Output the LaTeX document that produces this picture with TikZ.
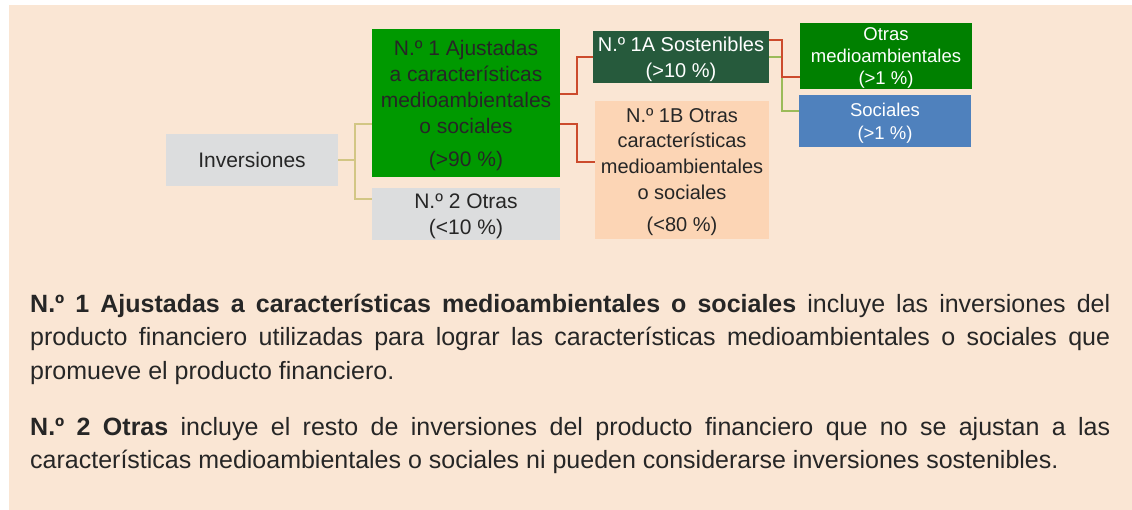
\documentclass[tikz,border=0pt]{standalone}
\usepackage{fontspec}
\setmainfont{Liberation Sans}
\definecolor{bg}{HTML}{FAE6D4}
\definecolor{gNone}{HTML}{009900}
\definecolor{gOt}{HTML}{008000}
\definecolor{dkg}{HTML}{265A3C}
\definecolor{peach}{HTML}{FCD5B5}
\definecolor{blu}{HTML}{4F81BD}
\definecolor{gry}{HTML}{DCDDDE}
\definecolor{khaki}{HTML}{D2C684}
\definecolor{redl}{HTML}{CC4B2C}
\definecolor{oliv}{HTML}{9BBB59}
\definecolor{txt}{HTML}{262626}
\begin{document}
\begin{tikzpicture}[x=1pt,y=-1pt,
  box/.style={rectangle, inner sep=0pt, outer sep=0pt, align=center, text=txt,
    text depth=-1.5pt, font=\fontsize{21}{26}\selectfont},
  wbox/.style={box, text=white},
  kline/.style={draw=khaki, line width=2pt},
  rline/.style={draw=redl, line width=2pt},
  oline/.style={draw=oliv, line width=2pt},
  body/.style={anchor=base west, inner sep=0pt, text=txt, font=\fontsize{25}{33}\selectfont}]
\useasboundingbox (0,0) rectangle (1132,510);
\fill[white] (0,0) rectangle (1132,510);
\fill[bg] (9,5) rectangle (1132,510);

\node[box, fill=gry, minimum width=172pt, minimum height=52pt] (inv) at (252,160) {Inversiones};
\node[box, fill=gNone, minimum width=188pt, minimum height=148pt] (n1) at (466,103)
  {N.º 1 Ajustadas\\a características\\medioambientales\\o sociales\\[7pt](>90 \%)};
\node[box, fill=gry, minimum width=188pt, minimum height=52pt] (n2) at (466,214)
  {N.º 2 Otras\\(<10 \%)};
\node[wbox, fill=dkg, minimum width=176pt, minimum height=52pt,
  font=\fontsize{20}{26}\selectfont] (a1) at (681,57)
  {N.º 1A Sostenibles\\(>10 \%)};
\node[box, fill=peach, minimum width=174pt, minimum height=138pt,
  font=\fontsize{20}{25.7}\selectfont] (b1) at (682,170)
  {N.º 1B Otras\\características\\medioambientales\\o sociales\\[7pt](<80 \%)};
\node[wbox, fill=gOt, minimum width=172pt, minimum height=66pt,
  font=\fontsize{18.5}{22}\selectfont] (ot) at (886,56)
  {Otras\\medioambientales\\(>1 \%)};
\node[wbox, fill=blu, minimum width=172pt, minimum height=52pt,
  font=\fontsize{18.5}{23}\selectfont] (so) at (885,121)
  {Sociales\\(>1 \%)};

% connectors
\draw[kline] (inv.east) -- ++(17,0);
\draw[kline] ([yshift=-21pt]n1.west) -| ([xshift=17pt]inv.east) |- ([yshift=15pt]n2.west);
\draw[rline] ([yshift=9pt]n1.east) -- ++(17,0) |- (a1.west);
\draw[rline] ([yshift=-21pt]n1.east) -- ++(17,0) |- ([yshift=8pt]b1.west);
\draw[oline] (a1.east) -- ++(13,0) |- ([yshift=10pt]so.west);
\draw[rline] ([yshift=17pt]a1.east) -- ++(13,0) |- ([yshift=-21pt]ot.west);

% body text
\node[body] (p1a) at (30,313) {\makebox[1080pt][s]{\textbf{N.º 1 Ajustadas a características medioambientales o sociales} incluye las inversiones del}};
\node[body] (p1b) at (30,346) {\makebox[1080pt][s]{producto financiero utilizadas para lograr las características medioambientales o sociales que}};
\node[body] (p1c) at (30,379) {promueve el producto financiero.};
\node[body] (p2a) at (30,435) {\makebox[1080pt][s]{\textbf{N.º 2 Otras} incluye el resto de inversiones del producto financiero que no se ajustan a las}};
\node[body] (p2b) at (30,468) {características medioambientales o sociales ni pueden considerarse inversiones sostenibles.};
\end{tikzpicture}
\end{document}
